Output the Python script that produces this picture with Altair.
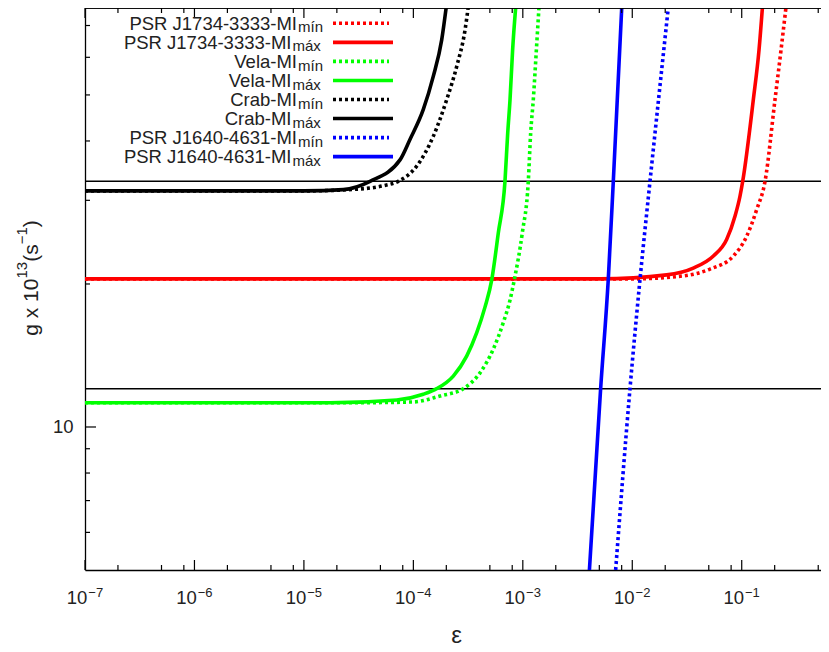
import altair as alt
import pandas as pd

# ---------------- layout ----------------
W, H = 736, 562
X_DOMAIN = [1e-7, 0.53]
Y_DOMAIN = [5, 76.2]

# ---------------- series definitions ----------------
series_main = ["PSR J1734-3333-MI", "PSR J1734-3333-MI", "Vela-MI", "Vela-MI",
               "Crab-MI", "Crab-MI", "PSR J1640-4631-MI", "PSR J1640-4631-MI"]
series_sub = ["mín", "máx", "mín", "máx", "mín", "máx", "mín", "máx"]
series_color = ["#ff0000", "#ff0000", "#00ff00", "#00ff00",
                "#000000", "#000000", "#0000ff", "#0000ff"]
series_dotted = [True, False, True, False, True, False, True, False]

# PSR J1734-3333 (red)
j1734_min_eps = [1e-7, 0.01, 0.0293, 0.0513, 0.0839, 0.1109, 0.1371, 0.1633, 0.2014, 0.2286, 0.2541]
j1734_min_g = [20.5, 20.5, 20.8, 21.5, 22.9, 25.2, 28.7, 32.9, 48.9, 62.2, 76.7]
j1734_max_eps = [1e-7, 5.08e-3, 0.0206, 0.0361, 0.0551, 0.0728, 0.0869, 0.0964, 0.1021, 0.1277, 0.1439, 0.1556]
j1734_max_g = [20.5, 20.5, 20.9, 21.6, 22.9, 24.8, 27.8, 30.6, 32.9, 48.9, 62.2, 78.0]

# Vela (green)
vela_min_eps = [1e-7, 3.16e-5, 1e-4, 1.75e-4, 2.858e-4, 4.064e-4, 5.383e-4, 6.637e-4, 7.64e-4,
                8.356e-4, 9.886e-4, 1.122e-3, 1.18e-3, 1.247e-3, 1.33e-3, 1.406e-3]
vela_min_g = [11.25, 11.25, 11.29, 11.62, 12.04, 13.0, 14.6, 16.6, 18.5,
              20.4, 25.6, 32.9, 41.6, 48.9, 62.2, 76.7]
vela_max_eps = [1e-7, 1.73e-5, 7.05e-5, 1.233e-4, 1.633e-4, 2.317e-4, 3.069e-4, 3.793e-4, 4.519e-4,
                5.2e-4, 5.97e-4, 6.87e-4, 7.28e-4, 7.64e-4, 8.07e-4, 8.67e-4]
vela_max_g = [11.25, 11.25, 11.4, 11.72, 12.04, 12.8, 14.1, 15.8, 17.9,
              20.4, 25.6, 32.9, 41.6, 48.9, 62.2, 78.0]

# Crab (black)
crab_min_eps = [1e-7, 1e-5, 3.26e-5, 5.32e-5, 7.28e-5, 1.072e-4, 1.52e-4, 2.018e-4, 2.489e-4, 2.965e-4, 3.177e-4]
crab_min_g = [31.4, 31.4, 31.7, 32.2, 32.9, 35.4, 40.9, 48.9, 57.4, 68.5, 76.7]
crab_max_eps = [1e-7, 1e-5, 2.29e-5, 4.02e-5, 7.55e-5, 9.31e-5, 1.233e-4, 1.52e-4, 1.815e-4, 2.018e-4]
crab_max_g = [31.4, 31.4, 31.6, 32.9, 36.5, 40.3, 46.6, 54.7, 65.3, 78.0]

# PSR J1640-4631 (blue)
j1640_min_eps = [7.05e-3, 9.53e-3, 0.01178, 0.01452, 0.02138]
j1640_min_g = [5.0, 12.04, 20.5, 32.9, 76.7]
j1640_max_eps = [4.06e-3, 5.14e-3, 6.04e-3, 6.71e-3, 8.05e-3]
j1640_max_g = [5.0, 12.04, 20.5, 32.9, 78.0]

series_eps = [j1734_min_eps, j1734_max_eps, vela_min_eps, vela_max_eps,
              crab_min_eps, crab_max_eps, j1640_min_eps, j1640_max_eps]
series_g = [j1734_min_g, j1734_max_g, vela_min_g, vela_max_g,
            crab_min_g, crab_max_g, j1640_min_g, j1640_max_g]

# horizontal reference lines
hline_g = [32.9, 12.04]

# ticks
x_major = [1e-7, 1e-6, 1e-5, 1e-4, 1e-3, 1e-2, 1e-1]
x_minor = [2e-7, 5e-7, 8e-7, 2e-6, 5e-6, 8e-6, 2e-5, 5e-5, 8e-5, 2e-4, 5e-4, 8e-4,
           2e-3, 5e-3, 8e-3, 2e-2, 5e-2, 8e-2, 2e-1, 5e-1]
x_tick_exp = ["−7", "−6", "−5", "−4", "−3", "−2", "−1"]
y_major = [10]
y_minor = [6, 7, 8, 9, 20, 30, 40, 50, 60, 70]

# y-axis title pieces: (text, is_superscript)
ytitle_pieces = [("g x 10", False), ("13", True), ("(s", False), ("−1", True), (")", False)]

FONT = "Liberation Sans"
TXT = "#222222"

xscale = alt.Scale(type="log", domain=X_DOMAIN, nice=False)
yscale = alt.Scale(type="log", domain=Y_DOMAIN, nice=False)

xaxis = alt.Axis(values=x_major, labels=False, ticks=False, grid=False,
                 domain=True, domainColor="black", domainWidth=1.3,
                 title="ε", titleFont=FONT, titleFontSize=24, titleFontWeight="normal",
                 titleColor=TXT, titleX=371, titleY=72, titleBaseline="alphabetic",
                 titleAlign="center")
yaxis = alt.Axis(values=y_major, format="d", ticks=False, grid=False,
                 domain=True, domainColor="black", domainWidth=1.3,
                 labelFont=FONT, labelFontSize=18.5, labelColor=TXT, labelPadding=12,
                 title=None)

X = alt.X("eps:Q", scale=xscale, axis=xaxis)
Y = alt.Y("g:Q", scale=yscale, axis=yaxis)

layers = []

# horizontal black reference lines
hl = pd.DataFrame({"g": hline_g})
layers.append(alt.Chart(hl).mark_rule(color="black", strokeWidth=1.4).encode(y=Y))

# curves
for i in range(8):
    d = pd.DataFrame({"eps": series_eps[i], "g": series_g[i]})
    mk = dict(color=series_color[i], strokeWidth=3.6, clip=True, interpolate="monotone")
    if series_dotted[i]:
        mk.update(strokeDash=[3, 3], strokeCap="butt")
    layers.append(alt.Chart(d).mark_line(**mk).encode(x=X, y=Y))

# inward ticks
def xticks(vals, y0, y1):
    d = pd.DataFrame({"eps": vals})
    return alt.Chart(d).mark_rule(color="black", strokeWidth=1.2).encode(
        x=X, y=alt.value(y0), y2=alt.value(y1))

def yticks(vals, x0, x1):
    d = pd.DataFrame({"g": vals})
    return alt.Chart(d).mark_rule(color="black", strokeWidth=1.2).encode(
        y=Y, x=alt.value(x0), x2=alt.value(x1))

layers += [xticks(x_major, H, H - 10), xticks(x_minor, H, H - 5),
           xticks(x_major, 0, 10), xticks(x_minor, 0, 5),
           yticks(y_major, 0, 11), yticks(y_minor, 0, 5)]

# top border
layers.append(alt.Chart(hl).mark_rule(color="black", strokeWidth=1.3).encode(
    x=alt.value(0), x2=alt.value(W), y=alt.value(0)))

# x tick labels: "10" with superscript exponent
xl = pd.DataFrame({"eps": x_major, "exp": x_tick_exp})
layers.append(alt.Chart(xl).mark_text(align="right", baseline="alphabetic", font=FONT,
                                      fontSize=18.5, color=TXT, dx=2.3).encode(
    x=X, y=alt.value(H + 34), text=alt.value("10")))
layers.append(alt.Chart(xl).mark_text(align="left", baseline="alphabetic", font=FONT,
                                      fontSize=13, color=TXT, dx=3.3).encode(
    x=X, y=alt.value(H + 27), text="exp:N"))

# y-axis title built from pieces (rotated, with superscripts)
char_w = {"g": 0.556, " ": 0.278, "x": 0.5, "1": 0.556, "0": 0.556, "3": 0.556,
          "(": 0.333, "s": 0.5, ")": 0.333, "−": 0.584}
MAIN_FS, SUP_FS = 21, 15
total = sum(sum(char_w[c] for c in t) * (SUP_FS if s else MAIN_FS) for t, s in ytitle_pieces)
pos = 270 + total / 2
yt_rows = []
for t, s in ytitle_pieces:
    fs = SUP_FS if s else MAIN_FS
    yt_rows.append({"t": t, "fs": fs, "px": -58.5 if s else -47.5, "py": pos})
    pos -= sum(char_w[c] for c in t) * fs
yt = pd.DataFrame(yt_rows)
layers.append(alt.Chart(yt).mark_text(align="left", baseline="alphabetic", font=FONT,
                                      color=TXT, angle=270).encode(
    x=alt.X("px:Q", scale=None), y=alt.Y("py:Q", scale=None),
    size=alt.Size("fs:Q", scale=None), text="t:N"))

# manual legend
leg = pd.DataFrame({
    "main": series_main, "sub": series_sub, "color": series_color,
    "dotted": series_dotted, "row": list(range(8)),
})
leg_base = alt.Chart(leg).transform_calculate(
    ty="21.7 + 19.05*datum.row",
    sy="24.4 + 19.05*datum.row",
    ly="15.3 + 19.05*datum.row",
    tx="datum.sub == 'mín' ? 212 : 206.5",
    sx="datum.sub == 'mín' ? 213 : 207.5",
)
layers.append(leg_base.mark_text(align="right", baseline="alphabetic", font=FONT,
                                 fontSize=18.5, color=TXT).encode(
    x=alt.X("tx:Q", scale=None), y=alt.Y("ty:Q", scale=None), text="main:N"))
layers.append(leg_base.mark_text(align="left", baseline="alphabetic", font=FONT,
                                 fontSize=15, color=TXT).encode(
    x=alt.X("sx:Q", scale=None), y=alt.Y("sy:Q", scale=None), text="sub:N"))
layers.append(leg_base.transform_filter("!datum.dotted").mark_rule(strokeWidth=3.6).encode(
    x=alt.value(248), x2=alt.value(308), y=alt.Y("ly:Q", scale=None),
    color=alt.Color("color:N", scale=None)))
layers.append(leg_base.transform_filter("datum.dotted").mark_rule(
    strokeWidth=3.6, strokeDash=[3, 3], strokeCap="butt").encode(
    x=alt.value(248), x2=alt.value(304), y=alt.Y("ly:Q", scale=None),
    color=alt.Color("color:N", scale=None)))

chart = alt.layer(*layers).properties(
    width=W, height=H,
    autosize=alt.AutoSizeParams(type="none"),
    padding={"left": 77, "top": 0, "right": 0, "bottom": 79},
).configure_view(strokeOpacity=0)

chart.save("out.html", embed_options={"renderer": "svg", "actions": False})
